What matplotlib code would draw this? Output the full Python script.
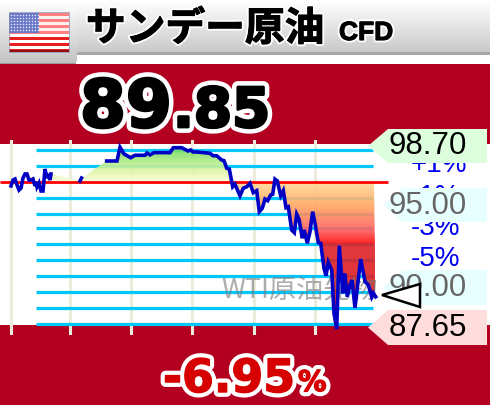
import numpy as np
import matplotlib
matplotlib.use("Agg")
import matplotlib.pyplot as plt
import matplotlib.patheffects as pe
from matplotlib.patches import Polygon, Rectangle, FancyBboxPatch
from matplotlib.colors import to_rgb

# ---------- data ----------
title = "サンデー原油"
title_suffix = "CFD"
price_int = "89"
price_dec = ".85"
change = "-6.95"
watermark = "WTI原油先物"
close_price = 96.56
high_label, low_label = "98.70", "87.65"
ref_labels = ["95.00", "90.00"]
pct_labels = ["+1%", "-1%", "-3%", "-5%"]

seg1_x = [11,13,15,17,19,21,23,25,27,29,31,33,35,36,37,39,41,43,45,47,48,50,51]
seg1_p = [96.35,96.71,96.77,96.41,96.10,96.22,96.83,97.08,97.08,96.71,96.71,96.77,96.35,96.59,96.29,96.53,96.04,96.04,97.38,96.83,97.08,96.71,97.08]
seg2_x = [80,81.5]
seg2_p = [96.65,96.83]
seg3_x = [106.7,117,120,124,130.7,135,145,147,150,154,170,173.3,181.7,188,190.7,193,196.7,210,213,216.7,221.7,224,226.7,229.3,232.7,235,240,243.3,246.7,250,253.3,256.7,259.3,262.3,265,267.7,270.7,272.7,275,277.3,280.7,283.3,286,288.3,291.7,294.3,296.7,299,302.3,304.3,307.3,310,312.7,315,318.3,320.7,324,326,328.3,331.7,334,336.7,339.3,342.7,344.7,347.3,350,352,355,360.7,365,368.3,371.7,373.3,375.7]
seg3_p = [97.87,97.87,98.71,98.30,98.07,98.22,98.22,98.36,98.24,98.38,98.38,98.68,98.68,98.48,98.54,98.42,98.42,98.34,98.19,98.19,97.93,97.89,97.43,97.38,96.30,96.45,95.75,96.21,96.30,96.51,95.94,96.06,94.78,94.99,95.55,95.45,95.80,95.84,96.76,96.65,95.75,96.06,95.02,95.08,93.66,93.50,94.62,94.32,93.16,93.66,92.85,93.56,94.78,94.07,92.89,92.85,91.33,90.87,91.69,91.22,88.58,87.62,92.70,89.80,91.02,89.59,90.31,90.61,88.92,91.89,90.51,90.31,89.59,89.82,89.59]
grid_prices = [98.54,97.57,95.61,94.63,93.81,92.83,91.86,90.88,89.91,88.93,87.96]
time_ticks = [11,70,131,192,254,315]

# ---------- page ----------
CRIMSON = "#b30021"
fig = plt.figure(figsize=(4.9, 4.05), dpi=100, facecolor="white")
FONT = "Liberation Sans"
HEAVY = "DejaVu Sans"
CJK = "Noto Sans CJK JP"


def px_axes(z):
    a = fig.add_axes([0, 0, 1, 1], zorder=z)
    a.set_xlim(0, 490)
    a.set_ylim(405, 0)
    a.axis("off")
    a.patch.set_alpha(0)
    return a


bg = px_axes(0)
fg = px_axes(2)

# header gradient
grad = np.linspace(1, 0.79, 64).reshape(-1, 1)
bg.imshow(grad, extent=[0, 490, 52, 0], cmap="gray", vmin=0, vmax=1, aspect="auto", zorder=1)
bg.add_patch(Rectangle((0, 52), 490, 2.5, fc="#a8a8a8", ec="none", zorder=2))
tab = FancyBboxPatch((-20, -10), 97, 74, boxstyle="round,pad=0,rounding_size=5", fc="#d8d8d8", ec="none", zorder=3)
bg.add_patch(tab)
tab_im = bg.imshow(np.linspace(1, 0.76, 64).reshape(-1, 1), extent=[0, 80, 64, 0], cmap="gray", vmin=0, vmax=1, aspect="auto", zorder=4)
tab_im.set_clip_path(tab)
bg.add_patch(Rectangle((0, 62.5), 76, 1.5, fc="#9a9a9a", ec="none", zorder=5))
bg.add_patch(Rectangle((0, 64), 490, 80, fc=CRIMSON, ec="none", zorder=5))
bg.add_patch(Rectangle((0, 325), 490, 80, fc=CRIMSON, ec="none", zorder=5))
bg.add_patch(Rectangle((78, 55), 412, 9, fc="white", ec="none", zorder=4))

# flag
for i in range(13):
    shade_red = "#ff8080" if i < 7 else "#e82020"
    shade_white = "#fff0f0" if i < 7 else "#ffffff"
    bg.add_patch(Rectangle((9, 12.5 + i * 3.05), 60, 3.05, fc=shade_red if i % 2 == 0 else shade_white, ec="none", zorder=6))
bg.add_patch(Rectangle((9, 12.5), 30, 20, fc="#6a78c8", ec="none", zorder=7))
sx, sy = np.meshgrid(np.arange(11, 39, 3.0), np.arange(14.5, 32, 3.0))
bg.scatter(sx.ravel(), sy.ravel(), s=1.2, c="#e8e8ff", linewidths=0, zorder=8)
bg.add_patch(Rectangle((9, 50), 60, 2, fc="#901010", ec="none", zorder=8))
bg.add_patch(Rectangle((9, 12), 60, 40, fc="none", ec="#8890b0", lw=0.5, zorder=9))

# title
halo = [pe.Stroke(linewidth=3.5, foreground="white"), pe.Stroke(linewidth=0.8, foreground="black"), pe.Normal()]
bg.text(86, 29, title, family=CJK, weight="bold", fontsize=28.6, color="black", ha="left", va="center", path_effects=halo, zorder=10)
bg.text(339, 33, title_suffix, family=FONT, weight="bold", fontsize=19, color="black", ha="left", va="center", path_effects=halo, zorder=10)

# big price
big = [pe.Stroke(linewidth=8.5, foreground="white"), pe.Stroke(linewidth=2, foreground="black"), pe.Normal()]
bg.text(80, 127, price_int, family=HEAVY, weight="bold", fontsize=47.5, color="black", ha="left", va="baseline", path_effects=big, zorder=10)
bg.text(173, 127, price_dec, family=HEAVY, weight="bold", fontsize=39.5, color="black", ha="left", va="baseline", path_effects=big, zorder=10)

# change
chg = [pe.Stroke(linewidth=7, foreground="white"), pe.Stroke(linewidth=1, foreground="#d60000"), pe.Normal()]
bg.text(163, 392, change, family=HEAVY, weight="bold", fontsize=33, color="#d60000", ha="left", va="baseline", path_effects=chg, zorder=10)
bg.text(298, 391, "%", family=HEAVY, weight="bold", fontsize=20.5, color="#d60000", ha="left", va="baseline", path_effects=chg, zorder=10)

# ---------- chart ----------
ax = fig.add_axes([0, (405 - 335) / 405, 1, 195 / 405], zorder=1)
ax.patch.set_alpha(0)
ax.axis("off")
for t in time_ticks:
    ax.axvline(t, color="#ecebdc", lw=2.2, zorder=1)
for g in grid_prices:
    ax.hlines(g, 36, 373, color="#00c8ff", lw=2.3, zorder=2)

all_x = np.array(seg1_x + seg2_x + seg3_x, dtype=float)
all_p = np.array(seg1_p + seg2_p + seg3_p, dtype=float)
mask = all_x >= 48
poly_xy = np.column_stack([
    np.r_[48, all_x[mask], 374],
    np.r_[close_price, all_p[mask], close_price],
])
stops_pos = [0.0, 0.03, 0.09, 0.15, 0.203, 0.206, 0.32, 0.445, 0.51, 0.52, 1.0]
stops_col = ["#60d850", "#70d860", "#a8ea80", "#e2f6a8", "#ffffe0", "#ffd898", "#ffa860", "#ff6060", "#ff1010", "#dd2228", "#e01818"]
pos = np.linspace(0, 1, 400)
rgb = np.array([to_rgb(c) for c in stops_col])
gradient = np.stack([np.interp(pos, stops_pos, rgb[:, k]) for k in range(3)], axis=1)
rgba = np.dstack([gradient.reshape(-1, 1, 3), np.full((400, 1), 0.9)])
im = ax.imshow(rgba, extent=[48, 374, 87.0, 99.0], origin="upper", aspect="auto", zorder=3, interpolation="bilinear")
clip = Polygon(poly_xy, closed=True, transform=ax.transData)
im.set_clip_path(clip)

ax.text(221, 90.0, watermark, family=CJK, fontsize=19.5, color="#777777", alpha=0.6, ha="left", va="center", zorder=4)

ax.hlines(close_price, 0, 388, color="#ff0000", lw=2.0, zorder=5)
for xs, ps in [(seg1_x, seg1_p), (seg2_x, seg2_p), (seg3_x, seg3_p)]:
    ax.plot(xs, ps, color="#0000c4", lw=2.6, solid_joinstyle="miter", zorder=6)
ax.set_xlim(0, 490)
ax.set_ylim(87.26, 99.15)

# ---------- right labels ----------
for s, y in zip(pct_labels, [165, 197, 228, 259]):
    fg.text(411, y, s, family=FONT, fontsize=20, color="#0000ee", ha="left", va="center", zorder=1)


def tag(y0, y1, tip_x, shoulder, color, text, tcolor):
    mid = (y0 + y1) / 2
    fg.add_patch(Polygon([(tip_x, mid), (shoulder, y0), (487, y0), (487, y1), (shoulder, y1)], closed=True, fc=color, ec="none", zorder=2))
    fg.text(428, mid + 0.5, text, family=FONT, fontsize=22.5, color=tcolor, ha="center", va="center", zorder=3)


tag(129, 163, 368, 388, "#ddffdd", high_label, "black")
tag(188, 222, 383, 403, "#e8ffff", ref_labels[0], "#666666")
tag(270, 305, 383, 403, "#e8ffff", ref_labels[1], "#666666")
tag(310, 345, 368, 388, "#ffdddd", low_label, "black")

fg.add_patch(Polygon([(382, 295), (420, 284), (420, 307)], closed=True, fc="white", ec="black", lw=1.8, zorder=4))

fig.savefig("out.png", dpi=100)
